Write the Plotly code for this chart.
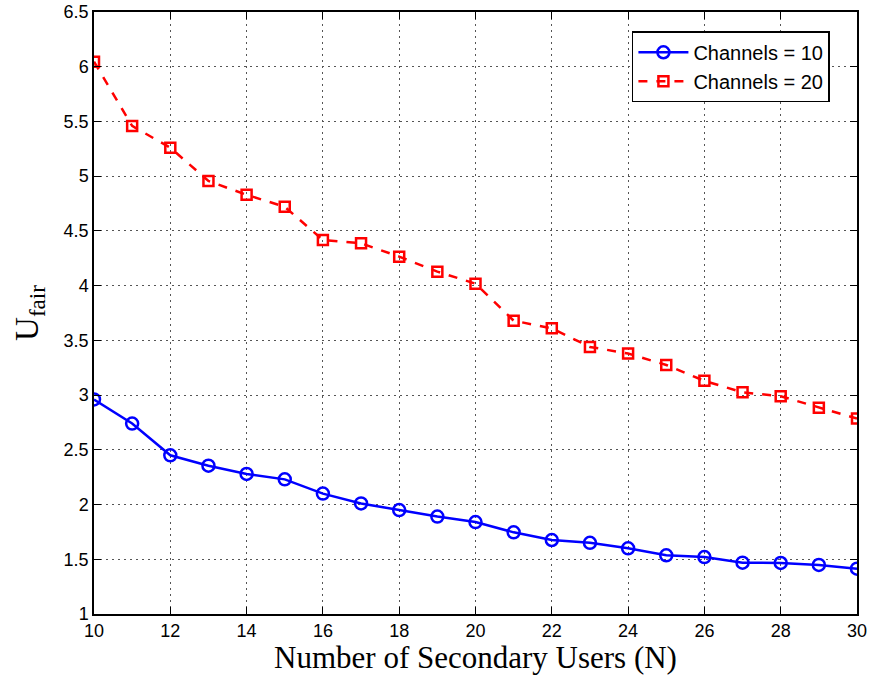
import plotly.graph_objects as go

users = list(range(10, 31))
channels_10 = [2.96, 2.74, 2.45, 2.355, 2.28, 2.23, 2.10, 2.01, 1.95, 1.89, 1.84,
               1.746, 1.676, 1.65, 1.60, 1.536, 1.52, 1.469, 1.466, 1.448, 1.414]
channels_20 = [6.046, 5.459, 5.26, 4.956, 4.83, 4.72, 4.417, 4.387, 4.265, 4.128, 4.018,
               3.68, 3.61, 3.44, 3.38, 3.275, 3.13, 3.025, 2.99, 2.885, 2.785]
x_ticks = list(range(10, 31, 2))
y_ticks = [1, 1.5, 2, 2.5, 3, 3.5, 4, 4.5, 5, 5.5, 6, 6.5]
y_tick_labels = ["1", "1.5", "2", "2.5", "3", "3.5", "4", "4.5", "5", "5.5", "6", "6.5"]

fig = go.Figure()
fig.add_trace(go.Scatter(
    x=users, y=channels_10, mode="lines+markers", name="Channels = 10",
    line=dict(color="#0000ff", width=2.5),
    marker=dict(symbol="circle-open", size=12, color="#0000ff", line=dict(width=2.5)),
))
fig.add_trace(go.Scatter(
    x=users, y=channels_20, mode="lines+markers", name="Channels = 20",
    line=dict(color="#ff0000", width=2.5, dash="dash"),
    marker=dict(symbol="square-open", size=10, color="#ff0000", line=dict(width=2.5)),
))

axis_common = dict(
    showline=True, linecolor="black", linewidth=1.5, mirror="ticks",
    ticks="inside", ticklen=7, tickcolor="black", tickwidth=1,
    showgrid=True, gridcolor="#555555", griddash="1.5px,4.5px", gridwidth=1,
    zeroline=False, automargin=False,
    tickfont=dict(family="Liberation Sans, Arial, sans-serif", size=18, color="black"),
)

fig.update_xaxes(
    range=[10, 30], tickvals=x_ticks,
    title=dict(text="Number of Secondary Users (N)",
               font=dict(family="Liberation Serif, Times New Roman, serif", size=31, color="black")),
    **axis_common,
)
fig.update_yaxes(
    range=[1, 6.5], tickvals=y_ticks, ticktext=y_tick_labels,
    title=dict(text="U<sub>fair</sub>",
               font=dict(family="Liberation Serif, Times New Roman, serif", size=33, color="black")),
    **axis_common,
)

fig.update_layout(
    width=871, height=675,
    margin=dict(l=94, r=14, t=12, b=61),
    paper_bgcolor="white", plot_bgcolor="white",
    showlegend=True,
    legend=dict(
        x=0.705, y=0.968, xanchor="left", yanchor="top",
        bgcolor="white", bordercolor="black", borderwidth=1.5,
        font=dict(family="Liberation Sans, Arial, sans-serif", size=20, color="black"),
        tracegroupgap=0, itemwidth=50,
    ),
)

fig.write_html(
    "out.html",
    config={"displayModeBar": False},
    post_script="document.body.style.margin='0';document.body.style.overflow='hidden';",
)
